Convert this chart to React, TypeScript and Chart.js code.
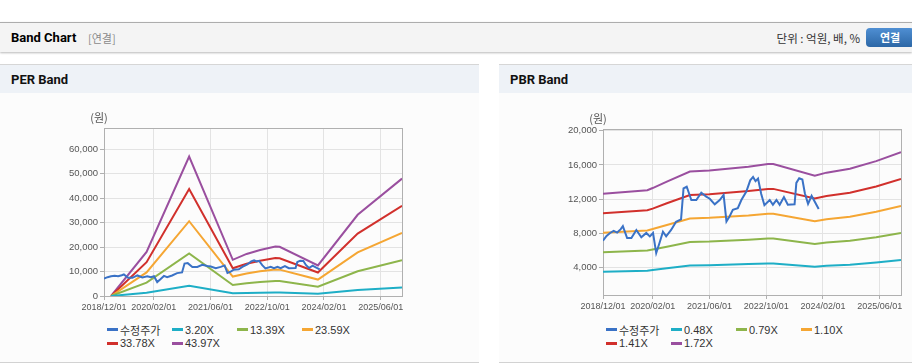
import React, { useEffect, useRef } from 'react';
import { Chart, registerables } from 'chart.js';

Chart.register(...registerables);

// ---- X axis (months counted from 2018/12/01) ----
const xMaxMonth = 84;
const xTickMonths = [0, 14, 30, 46, 62, 78];
const xTickLabels = ['2018/12/01', '2020/02/01', '2021/06/01', '2022/10/01', '2024/02/01', '2025/06/01'];

// ---- Y axis ticks ----
const perYTicks = [0, 10000, 20000, 30000, 40000, 50000, 60000];
const pbrYTicks = [4000, 8000, 12000, 16000, 20000];

// ---- 수정주가 (adjusted price) ----
const priceMonths = [
  0, 1, 2, 3, 4, 5, 5.6, 6.8, 8, 9.4, 10.8, 12.2, 13.2, 14.1, 15, 15.9, 16.9, 17.8, 19.2, 20.6,
  22, 22.7, 23.6, 24.9, 26.3, 27.7, 29.1, 30.1, 31.5, 32.9, 34, 34.8, 35.7, 36.6, 38, 39, 40.4,
  41.5, 42.3, 43, 43.7, 44.6, 45.5, 47, 47.9, 48.9, 49.8, 51, 52.1, 54, 54.5, 55.3, 56.2, 56.9,
  57.8, 58.8, 59.7, 60.8,
];
const priceValues = [
  7150, 7700, 8050, 8300, 8100, 8500, 8850, 7450, 7450, 8400, 7550, 8050, 7650, 8050, 5700, 6850,
  8200, 7650, 8400, 9350, 9650, 13250, 13450, 11900, 11900, 12750, 12300, 12050, 11400, 11900,
  12500, 9400, 10000, 10750, 10950, 11900, 12900, 14200, 14600, 14100, 14400, 12600, 11300, 11900,
  11350, 11900, 11350, 12250, 11350, 11400, 13900, 14450, 14300, 12700, 11450, 12400, 11700, 10850,
];

// ---- PER band ----
const perBandMonths = [2, 12, 24, 36.3, 40.2, 44, 48.3, 49.5, 60.3, 71.5, 84];
const perBand320 = [0, 1310, 4150, 1080, 1250, 1370, 1470, 1460, 910, 2420, 3490];
const perBand1339 = [0, 5480, 17360, 4510, 5240, 5720, 6150, 6120, 3810, 10110, 14620];
const perBand2359 = [0, 9660, 30580, 7940, 9230, 10090, 10840, 10780, 6710, 17810, 25750];
const perBand3378 = [0, 13830, 43790, 11370, 13210, 14440, 15520, 15440, 9600, 25510, 36880];
const perBand4397 = [0, 18000, 57000, 14800, 17200, 18800, 20200, 20100, 12500, 33200, 48000];
const perLabels = ['수정주가', '3.20X', '13.39X', '23.59X', '33.78X', '43.97X'];

// ---- PBR band ----
const pbrBandMonths = [0, 12.5, 14, 18, 24.5, 30, 41, 46.5, 48, 59.7, 63, 69.6, 77, 84];
const pbrBand048 = [3520, 3640, 3710, 3920, 4250, 4280, 4410, 4490, 4490, 4110, 4210, 4340, 4590, 4880];
const pbrBand079 = [5800, 5990, 6110, 6450, 7000, 7050, 7260, 7400, 7400, 6770, 6940, 7140, 7560, 8040];
const pbrBand110 = [8070, 8350, 8510, 8990, 9740, 9820, 10100, 10300, 10300, 9420, 9660, 9940, 10520, 11190];
const pbrBand141 = [10350, 10700, 10900, 11520, 12490, 12580, 12950, 13200, 13200, 12080, 12380, 12750, 13490, 14350];
const pbrBand172 = [12620, 13050, 13300, 14050, 15230, 15350, 15800, 16100, 16100, 14730, 15100, 15550, 16450, 17500];
const pbrLabels = ['수정주가', '0.48X', '0.79X', '1.10X', '1.41X', '1.72X'];

const seriesColors = ['#3a72c6', '#1eaec6', '#8db54b', '#f5a633', '#d1302c', '#9a4f9f'];

const TICK_FONT = '"Liberation Sans", Arial, "Noto Sans CJK KR", sans-serif';
const KR_FONT = '"Liberation Sans", Arial, "Noto Sans CJK KR", sans-serif';

type Series = { label: string; color: string; months: number[]; values: number[] };

const framePlugin = {
  id: 'frameAndUnit',
  beforeDatasetsDraw(chart: any) {
    const { ctx, chartArea } = chart;
    const l = Math.round(chartArea.left) + 0.5;
    const t = Math.round(chartArea.top) + 0.5;
    const w = Math.round(chartArea.right - chartArea.left);
    const h = Math.round(chartArea.bottom - chartArea.top);
    ctx.save();
    ctx.strokeStyle = '#b0b0b0';
    ctx.lineWidth = 1;
    ctx.strokeRect(l, t, w, h);
    ctx.restore();
  },
  afterDraw(chart: any) {
    const { ctx, chartArea } = chart;
    ctx.save();
    ctx.fillStyle = '#555';
    ctx.font = '11px "Noto Sans CJK KR", sans-serif';
    ctx.textAlign = 'center';
    ctx.textBaseline = 'middle';
    ctx.fillText('(원)', chartArea.left - 5, chartArea.top - 10);
    ctx.restore();
  },
};

function BandChart(props: {
  series: Series[];
  yMin: number;
  yMax: number;
  yTicks: number[];
  left: number;
  top: number;
  width: number;
  height: number;
  padTop: number;
  padRight: number;
  xAxisHeight: number;
}) {
  const ref = useRef<HTMLCanvasElement>(null);
  const { series, yMin, yMax, yTicks, left, top, width, height, padTop, padRight, xAxisHeight } = props;
  useEffect(() => {
    if (!ref.current) return;
    const chart = new Chart(ref.current, {
      type: 'line',
      data: {
        datasets: series.map((s) => ({
          label: s.label,
          data: s.months.map((m, i) => ({ x: m, y: s.values[i] })),
          borderColor: s.color,
          backgroundColor: s.color,
          borderWidth: 2,
          pointRadius: 0,
          tension: 0,
          fill: false,
        })),
      },
      options: {
        responsive: false,
        maintainAspectRatio: false,
        animation: false,
        layout: { padding: { top: padTop, right: padRight, left: 0, bottom: 0 } },
        plugins: { legend: { display: false }, tooltip: { enabled: false } },
        scales: {
          x: {
            type: 'linear',
            min: 0,
            max: xMaxMonth,
            afterBuildTicks: (s: any) => {
              s.ticks = xTickMonths.map((v) => ({ value: v }));
            },
            afterFit: (s: any) => {
              s.height = xAxisHeight;
            },
            ticks: {
              autoSkip: false,
              maxRotation: 0,
              minRotation: 0,
              padding: 2,
              color: '#555',
              font: { family: TICK_FONT, size: 9 },
              callback: (v: any) => {
                const i = xTickMonths.indexOf(Number(v));
                return i >= 0 ? xTickLabels[i] : '';
              },
            },
            grid: { color: '#e3e3e3', tickColor: '#b0b0b0', tickLength: 4 },
            border: { display: false },
          },
          y: {
            type: 'linear',
            min: yMin,
            max: yMax,
            afterBuildTicks: (s: any) => {
              s.ticks = yTicks.map((v) => ({ value: v }));
            },
            afterFit: (s: any) => {
              s.width = 104;
            },
            ticks: {
              autoSkip: false,
              padding: 2,
              color: '#555',
              font: { family: TICK_FONT, size: 9.5 },
              callback: (v: any) => Number(v).toLocaleString('en-US'),
            },
            grid: { color: '#e3e3e3', tickColor: '#b0b0b0', tickLength: 4 },
            border: { display: false },
          },
        },
      } as any,
      plugins: [framePlugin],
    });
    return () => chart.destroy();
  }, []);
  return (
    <canvas
      ref={ref}
      width={width}
      height={height}
      style={{ position: 'absolute', left, top, width, height }}
    />
  );
}

function Legend(props: { series: Series[]; left: number; top: number }) {
  return (
    <div
      style={{
        position: 'absolute',
        left: props.left,
        top: props.top,
        display: 'grid',
        gridTemplateColumns: 'repeat(4, 65px)',
        gridAutoRows: '13.5px',
        fontFamily: KR_FONT,
        fontSize: 11,
        color: '#333',
      }}
    >
      {props.series.map((s) => (
        <div key={s.label} style={{ display: 'flex', alignItems: 'center', whiteSpace: 'nowrap' }}>
          <span
            style={{ display: 'inline-block', width: 11, height: 3, background: s.color, marginRight: 2 }}
          />
          <span>{s.label}</span>
        </div>
      ))}
    </div>
  );
}

function Panel(props: { left: number; width: number; title: string }) {
  return (
    <div
      style={{
        position: 'absolute',
        left: props.left,
        top: 64,
        width: props.width,
        height: 297,
        borderTop: '1px solid #d6d6d6',
        borderBottom: '1px solid #d2d2d2',
        background: '#fcfcfc',
      }}
    >
      <div
        style={{
          height: 28,
          background: '#eef2f7',
          position: 'relative',
        }}
      >
        <span
          style={{
            position: 'absolute',
            left: 11,
            top: 0,
            lineHeight: '29px',
            fontFamily: 'Roboto, "Liberation Sans", sans-serif',
            fontWeight: 700,
            fontSize: 13,
            color: '#111',
          }}
        >
          {props.title}
        </span>
      </div>
    </div>
  );
}

export default function App() {
  useEffect(() => {
    document.body.style.margin = '0';
  }, []);

  const perValues = [priceValues, perBand320, perBand1339, perBand2359, perBand3378, perBand4397];
  const perSeries: Series[] = perLabels.map((label, i) => ({
    label,
    color: seriesColors[i],
    months: i === 0 ? priceMonths : perBandMonths,
    values: perValues[i],
  }));
  const pbrValues = [priceValues, pbrBand048, pbrBand079, pbrBand110, pbrBand141, pbrBand172];
  const pbrSeries: Series[] = pbrLabels.map((label, i) => ({
    label,
    color: seriesColors[i],
    months: i === 0 ? priceMonths : pbrBandMonths,
    values: pbrValues[i],
  }));

  return (
    <div
      style={{
        position: 'fixed',
        left: 0,
        top: 0,
        width: 912,
        height: 364,
        background: '#fff',
        overflow: 'hidden',
      }}
    >
      {/* Top header */}
      <div
        style={{
          position: 'absolute',
          left: 0,
          top: 22,
          width: 912,
          height: 29,
          borderTop: '1px solid #adadad',
          background: '#f4f4f4',
          boxShadow: '0 1px 2px rgba(0,0,0,0.28)',
        }}
      >
        <span
          style={{
            position: 'absolute',
            left: 11,
            top: 0,
            lineHeight: '30px',
            fontFamily: 'Roboto, "Liberation Sans", sans-serif',
            fontWeight: 700,
            fontSize: 13,
            color: '#000',
          }}
        >
          Band Chart
        </span>
        <span
          style={{
            position: 'absolute',
            left: 88,
            top: 0,
            lineHeight: '30px',
            fontFamily: '"Noto Sans CJK KR", sans-serif',
            fontSize: 11,
            color: '#8a8a8a',
          }}
        >
          [연결]
        </span>
        <span
          style={{
            position: 'absolute',
            right: 912 - 860,
            top: 0,
            lineHeight: '30px',
            fontFamily: '"Noto Sans CJK KR", sans-serif',
            fontSize: 11.5,
            color: '#333',
            whiteSpace: 'nowrap',
          }}
        >
          단위 : 억원, 배, %
        </span>
        <div
          style={{
            position: 'absolute',
            left: 866,
            top: 5,
            width: 48,
            height: 19,
            borderRadius: 4,
            background: 'linear-gradient(#4f8fd3, #2c67a6)',
            color: '#fff',
            fontFamily: '"Noto Sans CJK KR", sans-serif',
            fontWeight: 700,
            fontSize: 11,
            lineHeight: '19px',
            textAlign: 'center',
          }}
        >
          연결
        </div>
      </div>

      <Panel left={0} width={479} title="PER Band" />
      <Panel left={499} width={413} title="PBR Band" />

      <BandChart
        series={perSeries}
        yMin={0}
        yMax={68700}
        yTicks={perYTicks}
        left={0}
        top={93}
        width={479}
        height={225}
        padTop={35}
        padRight={77}
        xAxisHeight={22}
      />
      <BandChart
        series={pbrSeries}
        yMin={800}
        yMax={20200}
        yTicks={pbrYTicks}
        left={499}
        top={93}
        width={413}
        height={225}
        padTop={36}
        padRight={11}
        xAxisHeight={23}
      />

      <Legend series={perSeries} left={107} top={323} />
      <Legend series={pbrSeries} left={606} top={323} />
    </div>
  );
}
